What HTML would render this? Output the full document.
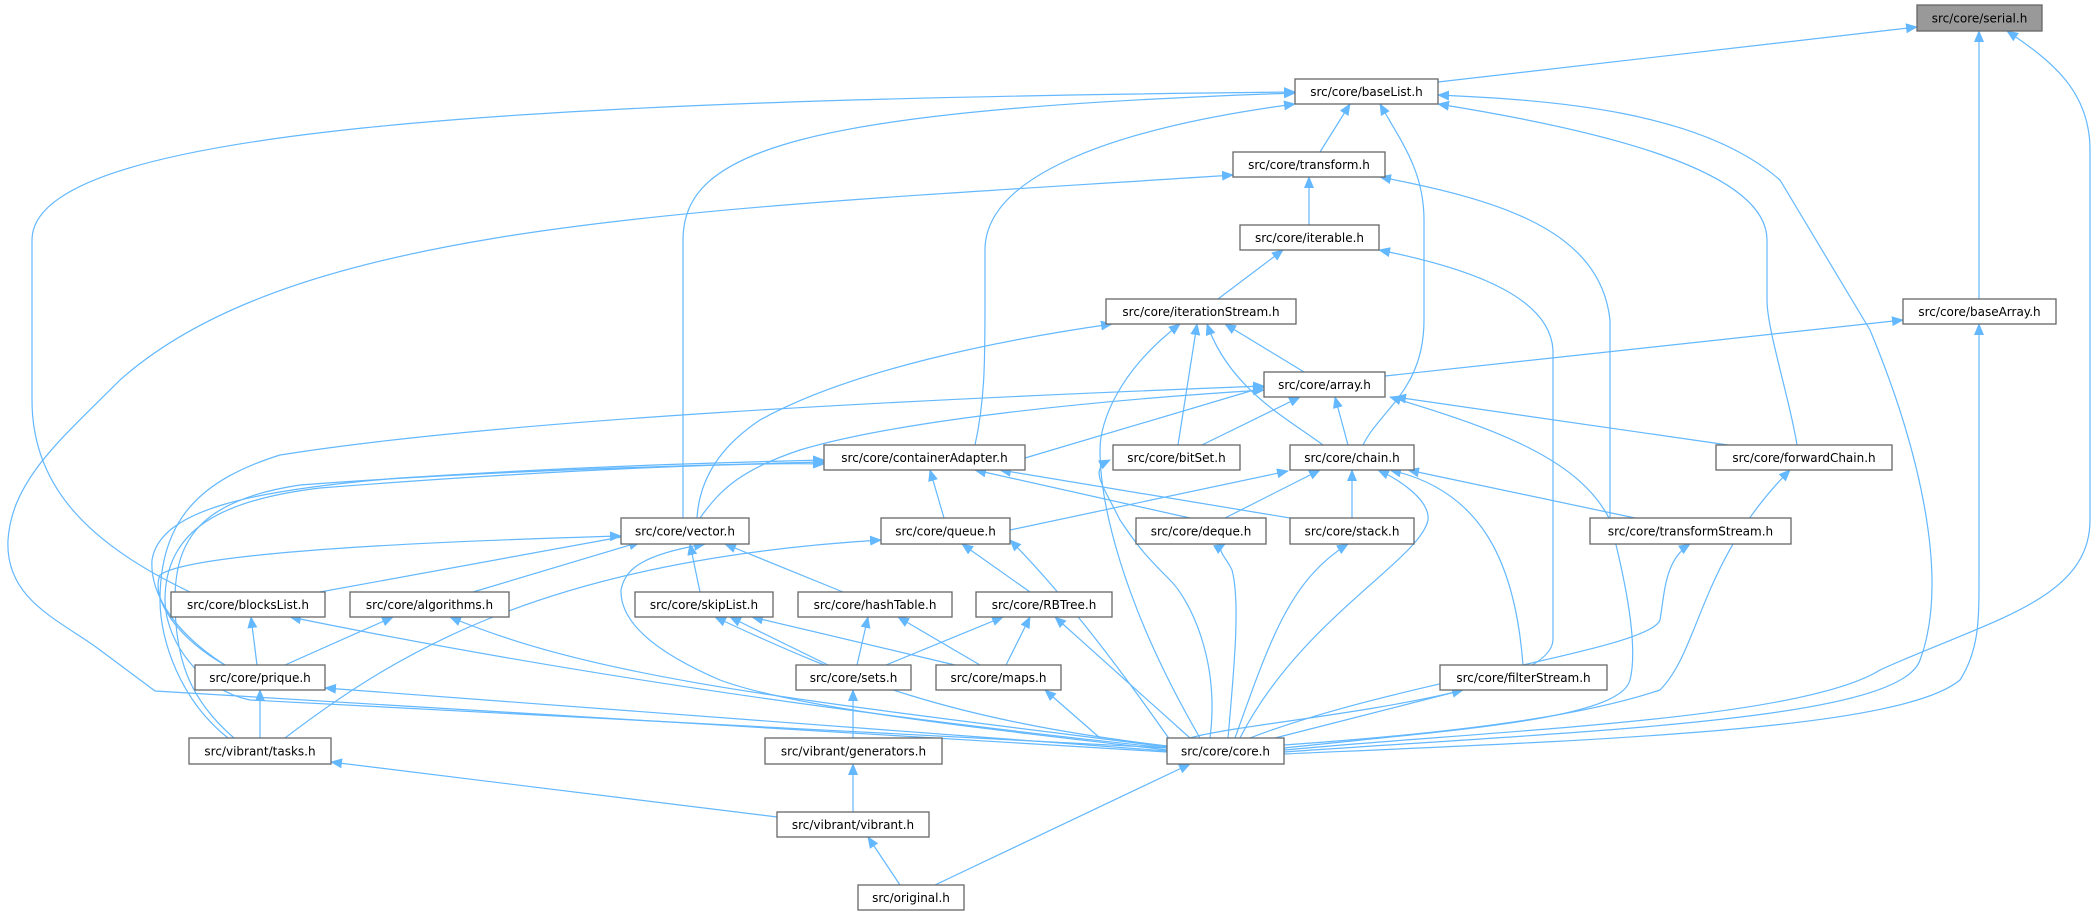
<!DOCTYPE html>
<html><head><meta charset="utf-8"><style>
html,body{margin:0;padding:0;background:#fff;}
svg{display:block}
text{font-family:"DejaVu Sans","Liberation Sans",sans-serif;font-size:12px;fill:#000}
.e{fill:none;stroke:#63b8ff;stroke-width:1.2}
.n{fill:#fff;stroke:#666;stroke-width:1.3}
</style></head><body>
<svg width="2100" height="916" viewBox="0 0 2100 916" xmlns="http://www.w3.org/2000/svg">
<defs>
<marker id="a" markerWidth="12" markerHeight="10" refX="11" refY="5" orient="auto" markerUnits="userSpaceOnUse">
<path d="M0,0 L12,5 L0,10 z" fill="#63b8ff"/>
</marker>
</defs>
<g class="e" marker-end="url(#a)">
<path d="M1438,82 L1917,27"/>
<path d="M1979,299 L1979,31"/>
<path d="M1284,750 C1500,730 1800,720 1880,670 C1990,620 2090,600 2090,520 L2090,150 C2090,90 2050,60 2007,31"/>
<path d="M1320,152 L1350,104"/>
<path d="M1363,445 C1380,410 1424,390 1424,320 L1424,220 C1424,170 1400,140 1380,104"/>
<path d="M975,445 C985,400 985,360 985,300 L985,250 C985,180 1100,130 1295,104"/>
<path d="M683,518 L683,240 C683,150 800,110 1295,93"/>
<path d="M190,592 C80,540 32,480 32,400 L32,240 C32,130 500,100 1295,92"/>
<path d="M1797,445 C1790,400 1767,330 1767,300 L1767,240 C1767,170 1600,130 1438,104"/>
<path d="M1284,752 C1600,730 1900,720 1920,660 C1950,580 1920,450 1870,330 L1780,180 C1700,110 1550,100 1438,95"/>
<path d="M1309,225 L1309,177"/>
<path d="M1167,752 L155,691 L100,650 C60,620 5,600 8,540 C12,480 60,440 120,380 C300,220 700,210 1233,175"/>
<path d="M1610,518 L1610,320 C1600,230 1500,200 1380,177"/>
<path d="M1218,299 L1283,250"/>
<path d="M1190,738 C1250,720 1550,700 1553,640 L1553,350 C1550,300 1480,270 1379,250"/>
<path d="M1304,372 L1225,324"/>
<path d="M1178,445 L1197,324"/>
<path d="M1323,445 C1290,420 1230,390 1207,324"/>
<path d="M1200,738 C1120,600 1100,500 1100,450 C1100,420 1120,370 1180,324"/>
<path d="M697,518 C700,470 730,440 760,420 C850,370 1000,340 1112,324"/>
<path d="M1385,376 L1903,320"/>
<path d="M1284,754 C1600,740 1900,730 1960,680 C1979,650 1979,620 1979,580 L1979,324"/>
<path d="M1202,445 L1300,397"/>
<path d="M1348,445 L1335,397"/>
<path d="M1728,445 L1395,397"/>
<path d="M1284,748 C1450,730 1620,720 1630,680 C1640,640 1620,560 1610,520 C1580,460 1500,430 1390,397"/>
<path d="M1025,458 L1264,387"/>
<path d="M700,518 C720,490 740,470 800,450 C900,420 1100,400 1264,390"/>
<path d="M228,738 C180,700 160,640 160,600 C160,520 200,480 280,455 C500,420 900,400 1264,386"/>
<path d="M944,518 L930,470"/>
<path d="M1190,518 L975,470"/>
<path d="M1290,518 L1000,470"/>
<path d="M234,738 C190,700 175,660 175,600 C175,540 200,500 300,485 C500,470 700,465 824,462"/>
<path d="M225,665 C170,630 150,590 152,560 C160,510 250,490 400,478 C600,465 750,462 824,460"/>
<path d="M1167,748 L250,700 C200,690 165,640 165,600 C165,530 220,500 320,488 C550,470 750,462 824,464"/>
<path d="M1010,530 L1288,471"/>
<path d="M1225,518 L1320,470"/>
<path d="M1352,518 L1352,470"/>
<path d="M1240,738 C1300,620 1420,560 1428,520 C1430,500 1400,480 1378,470"/>
<path d="M1523,665 C1515,560 1480,490 1390,470"/>
<path d="M1635,518 L1408,470"/>
<path d="M320,592 L632,535"/>
<path d="M473,592 L640,542"/>
<path d="M700,592 L690,544"/>
<path d="M843,592 L725,544"/>
<path d="M225,665 C180,640 150,600 160,575 C180,560 300,545 621,536"/>
<path d="M1167,750 C1000,730 800,710 720,680 C650,650 620,620 621,590 C625,570 640,555 705,544"/>
<path d="M1030,592 L962,544"/>
<path d="M285,738 C400,650 550,560 881,540"/>
<path d="M1170,740 C1100,640 1050,580 1010,540"/>
<path d="M257,665 L251,617"/>
<path d="M1167,748 C900,720 600,680 290,617"/>
<path d="M285,665 L393,617"/>
<path d="M1167,747 C800,700 600,680 450,617"/>
<path d="M828,665 L730,617"/>
<path d="M955,665 L752,617"/>
<path d="M1167,746 C950,720 850,680 715,617"/>
<path d="M857,665 L868,617"/>
<path d="M980,665 L898,617"/>
<path d="M886,665 L1003,617"/>
<path d="M1006,665 L1030,617"/>
<path d="M1190,738 L1055,617"/>
<path d="M260,738 L260,690"/>
<path d="M1167,751 L325,688"/>
<path d="M1100,738 L1045,690"/>
<path d="M1275,738 L1463,690"/>
<path d="M1210,738 C1220,660 1190,600 1170,580 C1150,560 1140,550 1120,520 C1100,480 1090,470 1110,460"/>
<path d="M1228,738 C1235,660 1240,600 1232,570 C1225,555 1215,550 1225,544"/>
<path d="M1235,738 C1270,640 1290,580 1348,544"/>
<path d="M1250,738 C1400,680 1650,650 1660,620 C1665,590 1665,560 1690,544"/>
<path d="M1284,745 C1500,730 1600,710 1660,690 C1700,650 1700,560 1790,470"/>
<path d="M853,738 L853,690"/>
<path d="M853,812 L853,764"/>
<path d="M777,817 L331,762"/>
<path d="M935,885 L1190,764"/>
<path d="M900,885 L868,837"/>
</g>
<g>
<rect class="n" x="1917" y="5" width="125" height="26" style="fill:#999"/><text x="1979.5" y="22.5" text-anchor="middle">src/core/serial.h</text>
<rect class="n" x="1295" y="79" width="143" height="25"/><text x="1366.5" y="96" text-anchor="middle">src/core/baseList.h</text>
<rect class="n" x="1233" y="152" width="152" height="25"/><text x="1309" y="169" text-anchor="middle">src/core/transform.h</text>
<rect class="n" x="1240" y="225" width="139" height="25"/><text x="1309.5" y="242" text-anchor="middle">src/core/iterable.h</text>
<rect class="n" x="1106" y="299" width="190" height="25"/><text x="1201" y="316" text-anchor="middle">src/core/iterationStream.h</text>
<rect class="n" x="1903" y="299" width="153" height="25"/><text x="1979.5" y="316" text-anchor="middle">src/core/baseArray.h</text>
<rect class="n" x="1264" y="372" width="121" height="25"/><text x="1324.5" y="389" text-anchor="middle">src/core/array.h</text>
<rect class="n" x="1113" y="445" width="127" height="25"/><text x="1176.5" y="462" text-anchor="middle">src/core/bitSet.h</text>
<rect class="n" x="1290" y="445" width="124" height="25"/><text x="1352" y="462" text-anchor="middle">src/core/chain.h</text>
<rect class="n" x="1716" y="445" width="176" height="25"/><text x="1804" y="462" text-anchor="middle">src/core/forwardChain.h</text>
<rect class="n" x="824" y="445" width="201" height="25"/><text x="924.5" y="462" text-anchor="middle">src/core/containerAdapter.h</text>
<rect class="n" x="621" y="518" width="128" height="26"/><text x="685" y="535.5" text-anchor="middle">src/core/vector.h</text>
<rect class="n" x="881" y="518" width="129" height="26"/><text x="945.5" y="535.5" text-anchor="middle">src/core/queue.h</text>
<rect class="n" x="1136" y="518" width="130" height="26"/><text x="1201" y="535.5" text-anchor="middle">src/core/deque.h</text>
<rect class="n" x="1290" y="518" width="124" height="26"/><text x="1352" y="535.5" text-anchor="middle">src/core/stack.h</text>
<rect class="n" x="1590" y="518" width="201" height="26"/><text x="1690.5" y="535.5" text-anchor="middle">src/core/transformStream.h</text>
<rect class="n" x="171" y="592" width="154" height="25"/><text x="248" y="609" text-anchor="middle">src/core/blocksList.h</text>
<rect class="n" x="350" y="592" width="159" height="25"/><text x="429.5" y="609" text-anchor="middle">src/core/algorithms.h</text>
<rect class="n" x="635" y="592" width="138" height="25"/><text x="704" y="609" text-anchor="middle">src/core/skipList.h</text>
<rect class="n" x="798" y="592" width="154" height="25"/><text x="875" y="609" text-anchor="middle">src/core/hashTable.h</text>
<rect class="n" x="976" y="592" width="136" height="25"/><text x="1044" y="609" text-anchor="middle">src/core/RBTree.h</text>
<rect class="n" x="195" y="665" width="130" height="25"/><text x="260" y="682" text-anchor="middle">src/core/prique.h</text>
<rect class="n" x="796" y="665" width="115" height="25"/><text x="853.5" y="682" text-anchor="middle">src/core/sets.h</text>
<rect class="n" x="936" y="665" width="125" height="25"/><text x="998.5" y="682" text-anchor="middle">src/core/maps.h</text>
<rect class="n" x="1440" y="665" width="167" height="25"/><text x="1523.5" y="682" text-anchor="middle">src/core/filterStream.h</text>
<rect class="n" x="189" y="738" width="142" height="26"/><text x="260" y="755.5" text-anchor="middle">src/vibrant/tasks.h</text>
<rect class="n" x="765" y="738" width="177" height="26"/><text x="853.5" y="755.5" text-anchor="middle">src/vibrant/generators.h</text>
<rect class="n" x="1167" y="738" width="117" height="26"/><text x="1225.5" y="755.5" text-anchor="middle">src/core/core.h</text>
<rect class="n" x="777" y="812" width="152" height="25"/><text x="853" y="829" text-anchor="middle">src/vibrant/vibrant.h</text>
<rect class="n" x="858" y="885" width="106" height="25"/><text x="911" y="902" text-anchor="middle">src/original.h</text>
</g>
</svg>
</body></html>
